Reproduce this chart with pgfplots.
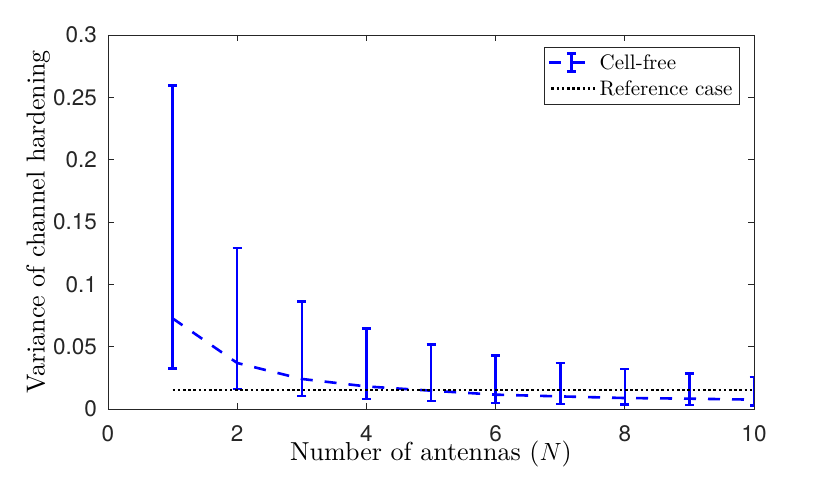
\documentclass[border=0pt]{standalone}
\usepackage{pgfplots}
\pgfplotsset{compat=1.18}
\usepackage{fontspec}
\setmainfont{lmroman10}[Extension=.otf, UprightFont=*-regular, ItalicFont=*-italic, BoldFont=*-bold, BoldItalicFont=*-bolditalic]
\newfontfamily\heros{TeX Gyre Heros}
\definecolor{axcol}{rgb}{0.15,0.15,0.15}
\begin{document}
\begin{tikzpicture}
\begin{axis}[
  name=ax,
  scale only axis,
  width=646pt, height=374pt,
  xmin=0, xmax=10, ymin=0, ymax=0.3,
  xtick={0,2,4,6,8,10},
  xticklabels={0,2,4,6,8,10},
  ytick={0,0.05,0.1,0.15,0.2,0.25,0.3},
  yticklabels={0,0.05,0.1,0.15,0.2,0.25,0.3},
  scaled y ticks=false,
  tick align=inside,
  major tick length=6pt,
  axis line style={axcol, line width=0.8pt},
  every tick/.style={axcol, line width=0.8pt},
  ticklabel style={font=\heros\fontsize{22.5}{24}\selectfont, text=axcol},
  yticklabel style={anchor=east, inner sep=0pt, xshift=-11pt},
  xticklabel style={anchor=north, inner sep=0pt, yshift=-16.5pt},
  xlabel={Number of antennas ($N$)},
  ylabel={Variance of channel hardening},
  label style={font=\fontsize{26}{28}\selectfont},
  xlabel style={at={(axis description cs:0.5,-0.139)}, anchor=base},
  ylabel style={at={(axis description cs:-0.108,0.5)}, anchor=center},
  legend style={at={(axis description cs:0.978,0.968)}, anchor=north east,
    draw=axcol, line width=0.6pt, font=\fontsize{21}{22}\selectfont,
    inner xsep=4pt, inner ysep=2pt, nodes={inner xsep=3pt, inner ysep=5pt}},
  legend cell align=left,
]
\addplot[blue, line width=2.6pt, dash pattern=on 12pt off 12pt,
  legend image code/.code={
    \draw[blue, solid, line width=2.6pt] (2pt,0pt) -- (12pt,0pt);
    \draw[blue, solid, line width=2.6pt] (22pt,0pt) -- (35pt,0pt);
    \draw[blue, solid, line width=2.6pt] (22pt,-9pt) -- (22pt,9pt);
    \draw[blue, solid, line width=2.6pt] (17.5pt,-9pt) -- (26.5pt,-9pt);
    \draw[blue, solid, line width=2.6pt] (17.5pt,9pt) -- (26.5pt,9pt);
    \path (0pt,0pt) -- (46pt,0pt);
  },
  error bars/.cd, y dir=both, y explicit,
  error bar style={line width=2.6pt, solid},
  error mark options={rotate=90, mark size=4.5pt, line width=2.6pt, solid, blue}]
coordinates {
(1,0.0727) += (0,0.1866) -= (0,0.0401)
(2,0.0369) += (0,0.0922) -= (0,0.0209)
(3,0.0241) += (0,0.0620) -= (0,0.0137)
(4,0.0181) += (0,0.0463) -= (0,0.0101)
(5,0.0147) += (0,0.0369) -= (0,0.0083)
(6,0.0115) += (0,0.0313) -= (0,0.0067)
(7,0.0101) += (0,0.0268) -= (0,0.0061)
(8,0.0088) += (0,0.0233) -= (0,0.0054)
(9,0.0083) += (0,0.0203) -= (0,0.0051)
(10,0.0075) += (0,0.0182) -= (0,0.0049)
};
\addlegendentry{Cell-free}
\addplot[black, line width=2.6pt, dash pattern=on 2.6pt off 2.6pt,
  legend image code/.code={\draw[black, line width=2.6pt, dash pattern=on 2.6pt off 2.6pt] (2pt,0pt) -- (46pt,0pt);}]
coordinates {(1,0.0152) (2,0.0152) (3,0.0152) (4,0.0152) (5,0.0152) (6,0.0152) (7,0.0152) (8,0.0152) (9,0.0152) (10,0.0152)};
\addlegendentry{Reference case}
\end{axis}
\pgfresetboundingbox
\path[use as bounding box] ([shift={(-108pt,-70pt)}]ax.south west) rectangle ([shift={(76pt,35pt)}]ax.north east);
\end{tikzpicture}
\end{document}
